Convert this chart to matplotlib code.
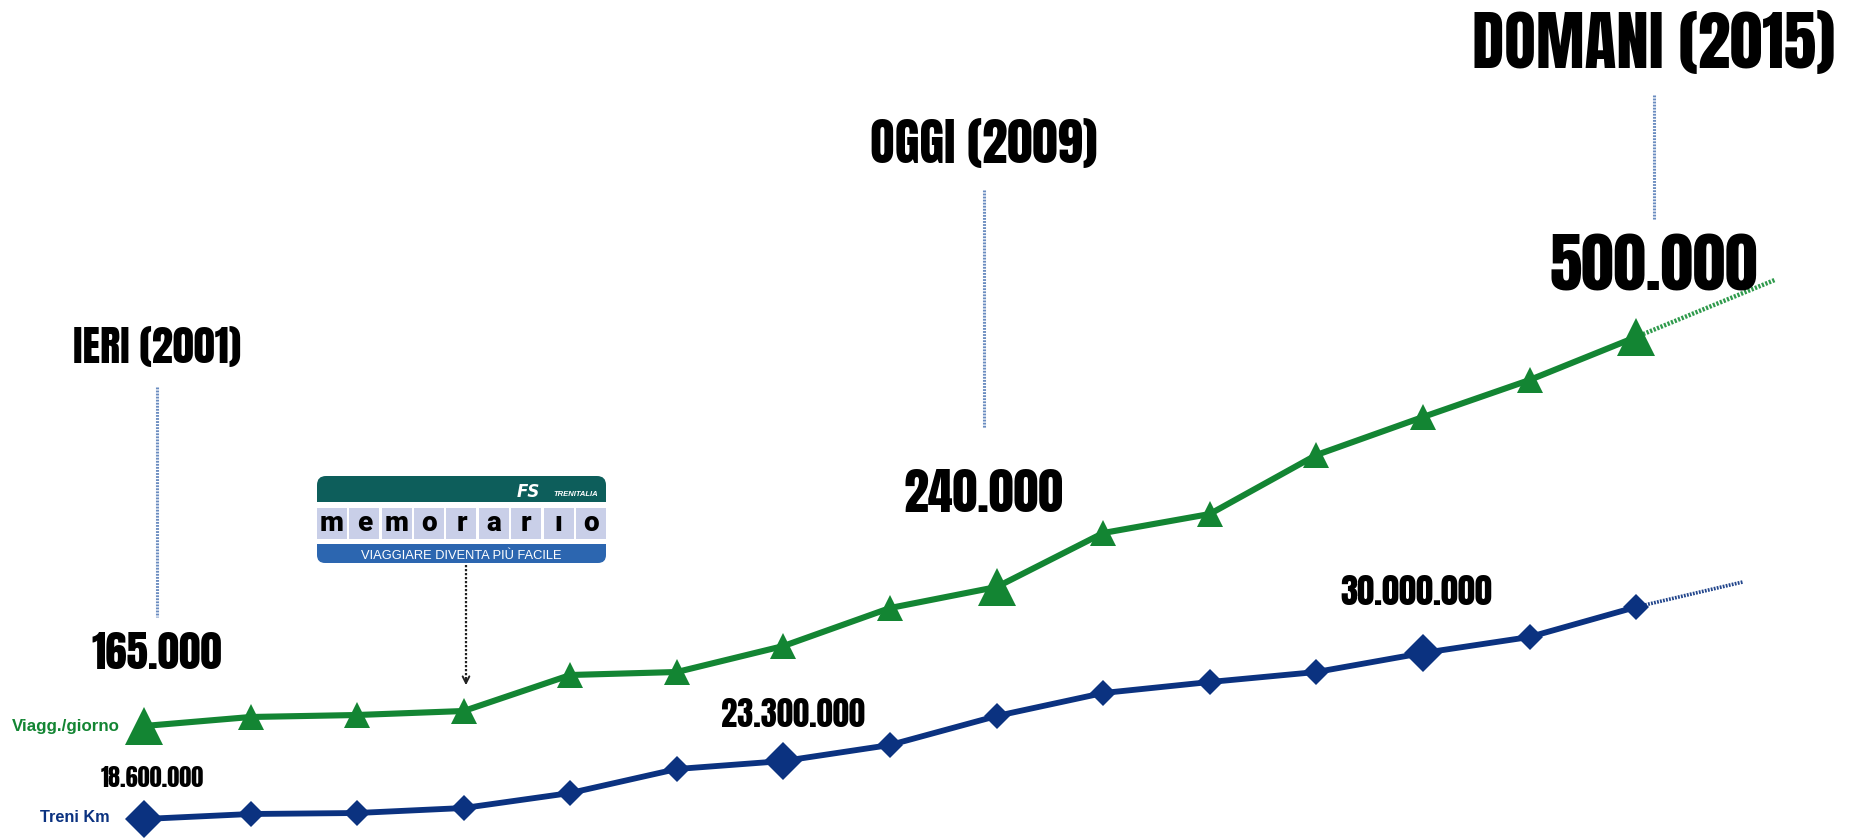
import matplotlib
matplotlib.use('Agg')
import matplotlib.pyplot as plt
from matplotlib.patches import FancyBboxPatch, Rectangle

# ---------------- data ----------------
years = list(range(2001, 2016))
# visual height of each point (passengers per day series), picture units
viagg_level = [112, 121, 123, 127, 163, 166, 192, 230, 251, 305, 324, 383, 421, 458, 501]
# visual height of each point (train-km series), picture units
treni_level = [19, 24, 25, 30, 45, 69, 77, 93, 122, 145, 156, 166, 185, 201, 231]
# projected trend after the last point
viagg_trend_years = [2015, 2016.3]
viagg_trend_level = [501, 558]
treni_trend_years = [2015, 2016.0]
treni_trend_level = [231, 256]
# highlighted points
viagg_big_years = [2001, 2009, 2015]
treni_big_years = [2001, 2007, 2013]
era_labels = ['IERI (2001)', 'OGGI (2009)', 'DOMANI (2015)']
viagg_value_labels = ['165.000', '240.000', '500.000']
treni_value_labels = ['18.600.000', '23.300.000', '30.000.000']
series_names = ['Viagg./giorno', 'Treni Km']
logo_letters = list('memorarıo')
logo_title = 'TRENITALIA'
logo_motto = 'VIAGGIARE DIVENTA PIÙ FACILE'

GREEN = '#138533'
GREEN_LIGHT = '#2f9a4c'
BLUE = '#0b3280'
DOTLINE = '#6a8cc0'
BIG = 'Anton'

W, H = 1854, 838
fig = plt.figure(figsize=(W / 100, H / 100), dpi=100)

# main data axes
ax = fig.add_axes([0, 0, 1, 1])
x0 = 2001 - 144 / 106.58
ax.set_xlim(x0, x0 + W / 106.58)
ax.set_ylim(0, H)
ax.axis('off')

ax.plot(viagg_trend_years, viagg_trend_level, color=GREEN_LIGHT, lw=3.2,
        linestyle=(0, (0.5, 0.35)), solid_capstyle='butt', zorder=2)
ax.plot(treni_trend_years, treni_trend_level, color=BLUE, lw=2.6,
        linestyle=(0, (0.5, 0.35)), zorder=2, alpha=0.9)

ax.plot(years, viagg_level, color=GREEN, lw=4.4, marker='^', ms=19, mew=0,
        solid_joinstyle='round', zorder=3)
ax.plot(years, treni_level, color=BLUE, lw=4.2, marker='D', ms=13, mew=0,
        solid_joinstyle='round', zorder=3)
ax.plot(viagg_big_years, [viagg_level[years.index(y)] for y in viagg_big_years],
        linestyle='none', marker='^', ms=28, mew=0, color=GREEN, zorder=4)
ax.plot(treni_big_years, [treni_level[years.index(y)] for y in treni_big_years],
        linestyle='none', marker='D', ms=19, mew=0, color=BLUE, zorder=4)

# overlay in picture pixel units (top-left origin) for annotations
ov = fig.add_axes([0, 0, 1, 1])
ov.set_xlim(0, W)
ov.set_ylim(H, 0)
ov.axis('off')
ov.patch.set_alpha(0)

# era titles and vertical dotted guides
era_specs = [  # (x, title baseline, title size, guide top, guide bottom, value baseline, value size)
    (157, 363, 30.5, 387, 617, 669, 31),
    (984, 163, 36.5, 190, 428, 512, 36),
    (1654, 68, 47, 95, 220, 290, 47),
]
for lbl, val, (x, tb, ts, g0, g1, vb, vs) in zip(era_labels, viagg_value_labels, era_specs):
    ov.text(x, tb, lbl, ha='center', va='baseline', fontsize=ts, family=BIG, color='black')
    ov.plot([x, x], [g0, g1], color=DOTLINE, lw=2.2, linestyle=(0, (0.6, 0.4)))
    ov.text(x, vb, val, ha='center', va='baseline', fontsize=vs, family=BIG, color='black')

treni_specs = [(152, 787, 17.5), (793, 727, 23.5), (1416, 605, 25)]
for val, (x, b, s) in zip(treni_value_labels, treni_specs):
    ov.text(x, b, val, ha='center', va='baseline', fontsize=s, family=BIG, color='black')

ov.text(12, 731, series_names[0], ha='left', va='baseline', fontsize=12.2,
        family='Liberation Sans', weight='bold', color=GREEN)
ov.text(40, 822, series_names[1], ha='left', va='baseline', fontsize=11.7,
        family='Liberation Sans', weight='bold', color=BLUE)

# memorario logo
LX, LW = 317, 289
ov.add_patch(FancyBboxPatch((LX, 476), LW, 26, boxstyle='round,pad=0,rounding_size=9',
                            fc='#0d5e5b', ec='none'))
ov.add_patch(Rectangle((LX, 490), LW, 12, fc='#0d5e5b', ec='none'))
ov.add_patch(FancyBboxPatch((LX, 544), LW, 19, boxstyle='round,pad=0,rounding_size=8',
                            fc='#2c66b0', ec='none'))
ov.add_patch(Rectangle((LX, 544), LW, 9, fc='#2c66b0', ec='none'))
cw = 30
pitch = (LW - cw) / (len(logo_letters) - 1)
for i, ch in enumerate(logo_letters):
    cx = LX + i * pitch
    ov.add_patch(Rectangle((cx, 508), cw, 31, fc='#c9cfe8', ec='none'))
    ov.text(cx + cw / 2, 531, ch, ha='center', va='baseline', fontsize=20,
            family='Roboto', weight=900, color='black')
ov.text(LX + LW / 2, 559, logo_motto, ha='center', va='baseline', fontsize=9.3,
        family='Liberation Sans', color='white')
ov.text(528, 497, 'FS', ha='center', va='baseline', fontsize=12, style='italic',
        weight='bold', family='DejaVu Sans', color='white')
ov.text(598, 496, logo_title, ha='right', va='baseline', fontsize=5.5, style='italic',
        weight='bold', family='Liberation Sans', color='white')

# dotted pointer from the logo to the 2004 point
ov.plot([466, 466], [565, 680], color='#222222', lw=1.6, linestyle=(0, (1, 0.8)))
ov.annotate('', xy=(466, 688), xytext=(466, 676),
            arrowprops=dict(arrowstyle='->', color='#222222', lw=1.4, mutation_scale=12))

fig.savefig('out.png', dpi=100, facecolor='white')
